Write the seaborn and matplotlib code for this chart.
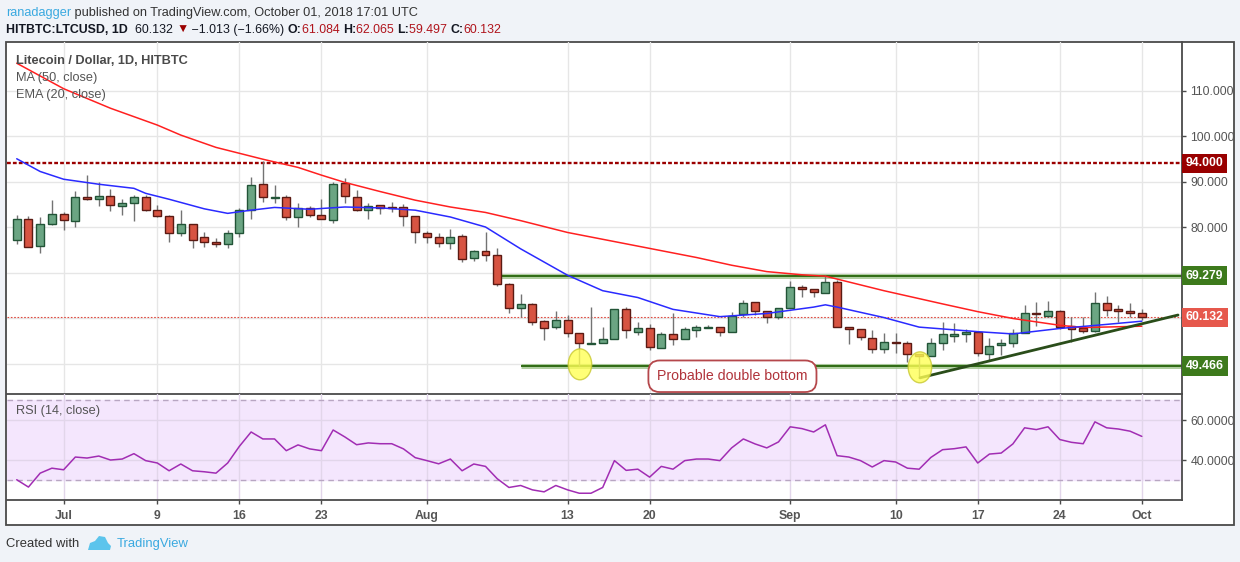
import matplotlib
matplotlib.use('Agg')
import matplotlib.pyplot as plt
import matplotlib.dates as mdates
import matplotlib.transforms as mtransforms
from matplotlib.patches import Rectangle, Ellipse, Polygon
import seaborn as sns
import pandas as pd
import numpy as np

sns.set_theme(style='white')
plt.rcParams['font.family'] = ['Liberation Sans', 'DejaVu Sans']

W, H = 1240, 562
BG = '#f0f3f8'

# daily candles, Jun 27 - Oct 1 2018
start = '2018-06-27'
open_ = [77.14, 81.68, 75.75, 80.59, 82.86, 81.24, 86.52, 86.08, 86.74, 84.54,
         85.20, 86.52, 83.66, 82.34, 78.61, 80.59, 77.73, 76.63, 76.19, 78.61,
         83.66, 89.45, 86.30, 86.52, 82.12, 84.10, 82.56, 81.46, 89.74, 86.52,
         83.66, 84.76, 84.32, 84.32, 82.34, 78.61, 77.73, 76.41, 77.95, 73.12,
         74.66, 73.78, 67.47, 62.13, 63.01, 59.27, 57.95, 59.56, 56.63, 54.21,
         54.43, 55.39, 61.90, 56.99, 57.73, 53.34, 56.41, 55.31, 57.29, 57.73,
         58.02, 56.99, 60.81, 63.44, 61.54, 60.15, 62.13, 66.74, 66.38, 65.42,
         67.84, 57.95, 57.51, 55.53, 53.11, 54.65, 54.43, 52.01, 51.72, 54.58,
         56.12, 56.41, 56.85, 52.01, 54.07, 54.43, 56.63, 61.03, 60.51, 61.54,
         58.24, 57.87, 57.22, 63.37, 61.90, 61.46, 61.084]
high = [82.64, 82.42, 82.20, 85.93, 83.37, 87.91, 91.43, 89.82, 88.28, 86.08,
        86.96, 86.96, 84.83, 82.56, 83.74, 80.59, 78.83, 77.51, 79.34, 84.17,
        90.91, 94.50, 89.23, 87.03, 85.20, 84.61, 86.08, 89.96, 90.70, 88.13,
        85.20, 84.76, 85.42, 85.05, 82.34, 79.13, 78.61, 79.57, 78.47, 74.95,
        78.90, 75.39, 67.77, 65.28, 63.22, 59.56, 61.61, 60.66, 56.63, 62.49,
        57.95, 61.90, 62.35, 59.05, 58.68, 56.85, 61.03, 57.95, 58.39, 58.46,
        58.02, 61.39, 63.96, 63.44, 61.54, 62.13, 68.13, 67.25, 66.38, 69.45,
        68.35, 57.95, 57.51, 57.36, 56.63, 56.63, 54.95, 52.01, 55.53, 59.20,
        58.83, 57.51, 56.85, 55.68, 55.31, 57.51, 62.86, 63.59, 63.74, 61.76,
        60.30, 60.30, 65.64, 64.84, 62.86, 63.22, 62.065]
low = [76.26, 75.50, 74.36, 80.50, 79.34, 80.07, 85.93, 84.69, 83.59, 82.71,
       81.39, 83.44, 82.12, 76.78, 78.02, 75.46, 75.68, 75.68, 75.46, 77.88,
       81.83, 85.42, 85.20, 81.54, 80.07, 82.27, 81.68, 80.95, 85.20, 83.44,
       81.83, 82.78, 83.37, 80.29, 76.41, 76.41, 75.68, 75.10, 72.39, 72.61,
       72.61, 67.04, 61.17, 60.29, 58.39, 55.17, 57.58, 55.90, 49.53, 54.21,
       54.43, 55.39, 55.53, 56.27, 52.97, 53.34, 54.07, 55.31, 55.75, 57.73,
       56.04, 56.99, 60.15, 60.66, 58.83, 59.71, 62.13, 64.54, 64.69, 65.42,
       57.95, 54.21, 55.17, 52.23, 52.38, 52.23, 50.40, 46.89, 51.72, 52.97,
       54.80, 54.65, 51.72, 50.77, 51.87, 53.56, 56.63, 58.24, 60.30, 57.51,
       54.80, 56.63, 56.85, 60.44, 59.20, 60.30, 59.497]
close_ = [81.68, 75.53, 80.59, 82.86, 81.46, 86.52, 86.08, 86.74, 84.76, 85.20,
          86.52, 83.66, 82.34, 78.61, 80.59, 77.14, 76.63, 76.19, 78.61, 83.66,
          89.16, 86.52, 86.52, 82.12, 84.10, 82.56, 81.68, 89.45, 86.74, 83.66,
          84.54, 84.10, 84.10, 82.34, 78.83, 77.73, 76.41, 77.73, 72.90, 74.66,
          73.78, 67.40, 62.13, 63.01, 59.05, 57.73, 59.56, 56.63, 54.43, 54.43,
          55.39, 61.90, 57.36, 57.73, 53.56, 56.41, 55.31, 57.51, 58.02, 58.02,
          56.99, 60.51, 63.22, 61.54, 60.15, 62.13, 66.74, 66.30, 65.64, 67.84,
          57.95, 57.51, 55.75, 53.11, 54.65, 54.43, 52.01, 51.72, 54.43, 56.41,
          56.41, 56.99, 52.23, 53.92, 54.43, 56.63, 61.03, 60.80, 61.46, 58.10,
          57.51, 57.22, 63.22, 61.76, 61.61, 61.15, 60.132]

# indicator readings (day offset from start, value)
ma50_day = [0, 4, 8, 12, 14, 17, 21, 24, 26, 28, 31, 34, 37, 40, 43, 47, 53,
            58, 61, 64, 67, 69, 74, 79, 82, 85, 89, 91, 96]
ma50_val = [116.0, 110.4, 106.1, 102.4, 100.2, 97.5, 94.9, 93.1, 91.4, 89.8,
            87.8, 85.9, 84.4, 83.2, 81.4, 78.8, 75.8, 73.3, 71.6, 70.2, 69.5,
            69.2, 66.0, 63.1, 61.4, 59.9, 58.4, 57.9, 58.2]
ema20_day = [0, 2, 4, 7, 10, 11, 13, 16, 18, 20, 22, 25, 28, 31, 34, 37, 40,
             43, 47, 50, 53, 56, 60, 64, 68, 69, 70, 74, 77, 82, 85, 89, 93, 96]
ema20_val = [95.0, 92.2, 90.5, 89.4, 88.5, 87.4, 86.1, 84.0, 83.0, 83.7, 84.3,
             83.9, 84.4, 84.2, 83.7, 82.2, 80.0, 75.2, 69.4, 66.0, 64.5, 61.9,
             60.3, 61.0, 62.4, 62.9, 62.4, 60.1, 58.0, 57.0, 56.5, 57.7, 58.6,
             59.3]
rsi = [30.1, 26.4, 33.4, 35.9, 35.1, 41.5, 41.0, 42.0, 40.0, 40.5, 43.2, 39.7,
       38.5, 34.6, 38.0, 34.6, 34.1, 33.4, 38.5, 46.9, 54.1, 50.6, 50.6, 44.7,
       47.6, 45.6, 44.7, 55.1, 51.6, 47.7, 48.6, 48.2, 48.2, 45.6, 41.2, 39.7,
       38.1, 40.5, 34.6, 38.0, 36.8, 30.6, 26.2, 27.2, 25.0, 24.0, 27.2, 25.0,
       23.3, 23.3, 26.2, 39.7, 34.8, 35.4, 31.4, 36.8, 35.4, 39.7, 40.5, 40.5,
       39.7, 46.1, 50.6, 48.1, 46.1, 49.1, 56.7, 55.8, 54.1, 57.7, 42.2, 41.5,
       39.7, 36.5, 39.7, 39.0, 35.9, 35.4, 41.3, 45.2, 45.7, 46.6, 38.5, 43.0,
       43.5, 48.1, 56.2, 55.3, 56.7, 50.3, 48.9, 48.2, 59.2, 56.2, 55.6, 54.5,
       51.9]

# drawn levels and annotations
resistance_high = 94.000
range_top = 69.279
range_bottom = 49.466
last_price = 60.132
range_top_from = 41.2     # day offset where the line starts
range_bottom_from = 43.0
trend_day = [77.07, 99.09]
trend_val = [46.85, 60.66]
bottoms_day = [48.06, 77.07]
bottoms_val = [49.82, 49.16]

price_ticks = [50, 60, 70, 80, 90, 100, 110]
price_labels = ['', '', '', '80.000', '90.000', '100.000', '110.000']
tick_dates = ['2018-07-01', '2018-07-09', '2018-07-16', '2018-07-23',
              '2018-08-01', '2018-08-13', '2018-08-20', '2018-09-01',
              '2018-09-10', '2018-09-17', '2018-09-24', '2018-10-01']
tick_labels = ['Jul', '9', '16', '23', 'Aug', '13', '20', 'Sep', '10', '17',
               '24', 'Oct']

dates = pd.date_range(start, periods=len(close_))
x = mdates.date2num(dates)
x0 = x[0]
df = pd.DataFrame({'x': x, 'open': open_, 'high': high, 'low': low,
                   'close': close_, 'rsi': rsi})
ma_df = pd.DataFrame({'x': x0 + np.array(ma50_day), 'v': ma50_val})
ema_df = pd.DataFrame({'x': x0 + np.array(ema20_day), 'v': ema20_val})

fig = plt.figure(figsize=(W / 100, H / 100), dpi=100, facecolor=BG)


def fx(px):
    return px / W


def fy(py):
    return 1 - py / H


frame = Rectangle((fx(6), fy(525)), fx(1234) - fx(6), fy(42) - fy(525),
                  transform=fig.transFigure, facecolor='white',
                  edgecolor='#4a4a4a', lw=1.3, zorder=-5)
fig.add_artist(frame)

ax = fig.add_axes([fx(7), fy(394), fx(1182) - fx(7), fy(42) - fy(394)])
ax2 = fig.add_axes([fx(7), fy(500), fx(1182) - fx(7), fy(394) - fy(500)])
xlim = (x0 - 0.83, x0 + 99.43)

for a in (ax, ax2):
    a.set_facecolor('none')
    a.set_xlim(*xlim)
    for s in ('left', 'top'):
        a.spines[s].set_visible(False)
    for s in ('right', 'bottom'):
        a.spines[s].set_color('#4a4a4a')
        a.spines[s].set_linewidth(1.3)
    a.set_xticks(mdates.date2num(pd.to_datetime(tick_dates)))
    a.grid(True, color='#e6e6e6', lw=1)
    a.set_axisbelow(True)
    a.yaxis.tick_right()
    a.tick_params(axis='y', which='both', right=True, length=3, width=1,
                  color='#4a4a4a', pad=3, labelsize=8.8, labelcolor='#555555')

# ---- price pane
ax.set_ylim(43.3, 120.66)
ax.set_yticks(price_ticks)
ax.set_yticklabels(price_labels)
ax.tick_params(axis='x', bottom=False, labelbottom=False)

ax.axhline(resistance_high, color='#9b0000', lw=1.7, ls=(0, (1.6, 0.9)), zorder=2)
ax.axhline(last_price, color='#e04a3f', lw=0.8, ls=(0, (1.5, 1.5)), zorder=2)
for lvl, frm in ((range_top, range_top_from), (range_bottom, range_bottom_from)):
    ax.hlines(lvl, x0 + frm, xlim[1], color='#9cc28a', lw=3.6, alpha=0.8, zorder=2)
    ax.hlines(lvl, x0 + frm, xlim[1], color='#2f6b14', lw=1.4, zorder=2)

up = df['close'] >= df['open']
body_lo = np.minimum(df['open'], df['close'])
body_h = np.maximum((df['close'] - df['open']).abs(), 0.3)
ax.vlines(df['x'], df['low'], df['high'], color='#737373', lw=1, zorder=3)
ax.bar(df['x'], body_h, bottom=body_lo, width=0.68,
       color=np.where(up, '#6ba583', '#d75442'),
       edgecolor=np.where(up, '#225437', '#5b1a13'), linewidth=1, zorder=4)

sns.lineplot(data=ma_df, x='x', y='v', ax=ax, color='#ff2020', lw=1.1, zorder=5)
sns.lineplot(data=ema_df, x='x', y='v', ax=ax, color='#2a2aff', lw=1.1, zorder=5)
ax.set_xlabel('')
ax.set_ylabel('')

ax.plot(x0 + np.array(trend_day), trend_val, color='#2a4d1a', lw=2.0,
        zorder=6, solid_capstyle='round')
for d, v in zip(bottoms_day, bottoms_val):
    ax.add_patch(Ellipse((x0 + d, v), 2.0, 6.8, facecolor='#ffff55',
                         edgecolor='#c8c832', lw=1, alpha=0.8, zorder=7))

ax.text(x0 + 61.07, 47.2, 'Probable double bottom', ha='center', va='center',
        fontsize=10.2, color='#b0333a', zorder=8,
        bbox=dict(boxstyle='round,pad=0.62,rounding_size=0.8', fc='white',
                  ec='#b5474b', lw=1.3))

tr = mtransforms.blended_transform_factory(ax.transAxes, ax.transData)
for val, col in ((resistance_high, '#990000'), (range_top, '#3d7a1c'),
                 (last_price, '#e6584c'), (range_bottom, '#3d7a1c')):
    ax.text(1 + 4 / 1175, val, f'{val:.3f}', transform=tr, ha='left',
            va='center', fontsize=8.8, color='white', fontweight='bold',
            clip_on=False, zorder=10,
            bbox=dict(boxstyle='square,pad=0.3', fc=col, ec='none'))

fig.text(fx(16), fy(61), 'Litecoin / Dollar, 1D, HITBTC', fontsize=9.2,
         fontweight='bold', color='#4a4a4a', va='center')
fig.text(fx(16), fy(78), 'MA (50, close)', fontsize=9.2, color='#555555', va='center')
fig.text(fx(16), fy(95), 'EMA (20, close)', fontsize=9.2, color='#555555', va='center')

# ---- RSI pane
ax2.set_ylim(19.9, 73.2)
ax2.axhspan(30, 70, color='#f4e6fd', zorder=0)
ax2.set_yticks([40, 60])
ax2.set_yticklabels(['40.0000', '60.0000'])
ax2.grid(True, color='#e2d6ea', lw=1)
for lvl in (30, 70):
    ax2.axhline(lvl, color='#b8a6c2', lw=1, ls=(0, (4, 3)), zorder=1)
sns.lineplot(data=df, x='x', y='rsi', ax=ax2, color='#a12db3', lw=1.1, zorder=3)
ax2.set_xlabel('')
ax2.set_ylabel('')
ax2.set_xticklabels(tick_labels)
ax2.tick_params(axis='x', bottom=True, length=3, width=1, color='#4a4a4a',
                pad=4, labelsize=8.8, labelcolor='#555555')
for lab in ax2.get_xticklabels():
    lab.set_fontweight('bold')
fig.text(fx(16), fy(411), 'RSI (14, close)', fontsize=9.2, color='#555555', va='center')

# ---- header and footer
renderer = fig.canvas.get_renderer()


def run_text(px, py, parts, size):
    for s, col, wt in parts:
        t = fig.text(fx(px), fy(py), s, color=col, fontsize=size,
                     fontweight=wt, va='center', ha='left')
        px += t.get_window_extent(renderer).width


run_text(6, 13, [('ranadagger', '#3aa9e0', 'normal'),
                 (' published on TradingView.com, October 01, 2018 17:01 UTC',
                  '#333333', 'normal')], 9.2)
red = '#b0141c'
run_text(6, 30, [('HITBTC:LTCUSD, 1D', '#131722', 'bold'),
                 ('  60.132 ', '#131722', 'normal'),
                 ('▼', '#9b0000', 'normal'),
                 (' −1.013 (−1.66%) ', '#131722', 'normal'),
                 ('O:', '#131722', 'bold'), ('61.084 ', red, 'normal'),
                 ('H:', '#131722', 'bold'), ('62.065 ', red, 'normal'),
                 ('L:', '#131722', 'bold'), ('59.497 ', red, 'normal'),
                 ('C:', '#131722', 'bold'), ('60.132', red, 'normal')], 8.9)

fig.text(fx(6), fy(544), 'Created with', fontsize=9.4, color='#333333', va='center')
cloud = Polygon([(fx(88), fy(550)), (fx(90), fy(543)), (fx(95), fy(541)),
                 (fx(99), fy(536)), (fx(105), fy(537)), (fx(108), fy(543)),
                 (fx(111), fy(546)), (fx(110), fy(550))],
                closed=True, transform=fig.transFigure, facecolor='#5cc4ec',
                edgecolor='none')
fig.add_artist(cloud)
fig.text(fx(117), fy(544), 'TradingView', fontsize=9.4, color='#3aa9e0', va='center')

fig.savefig('out.png', dpi=100, facecolor=BG)
